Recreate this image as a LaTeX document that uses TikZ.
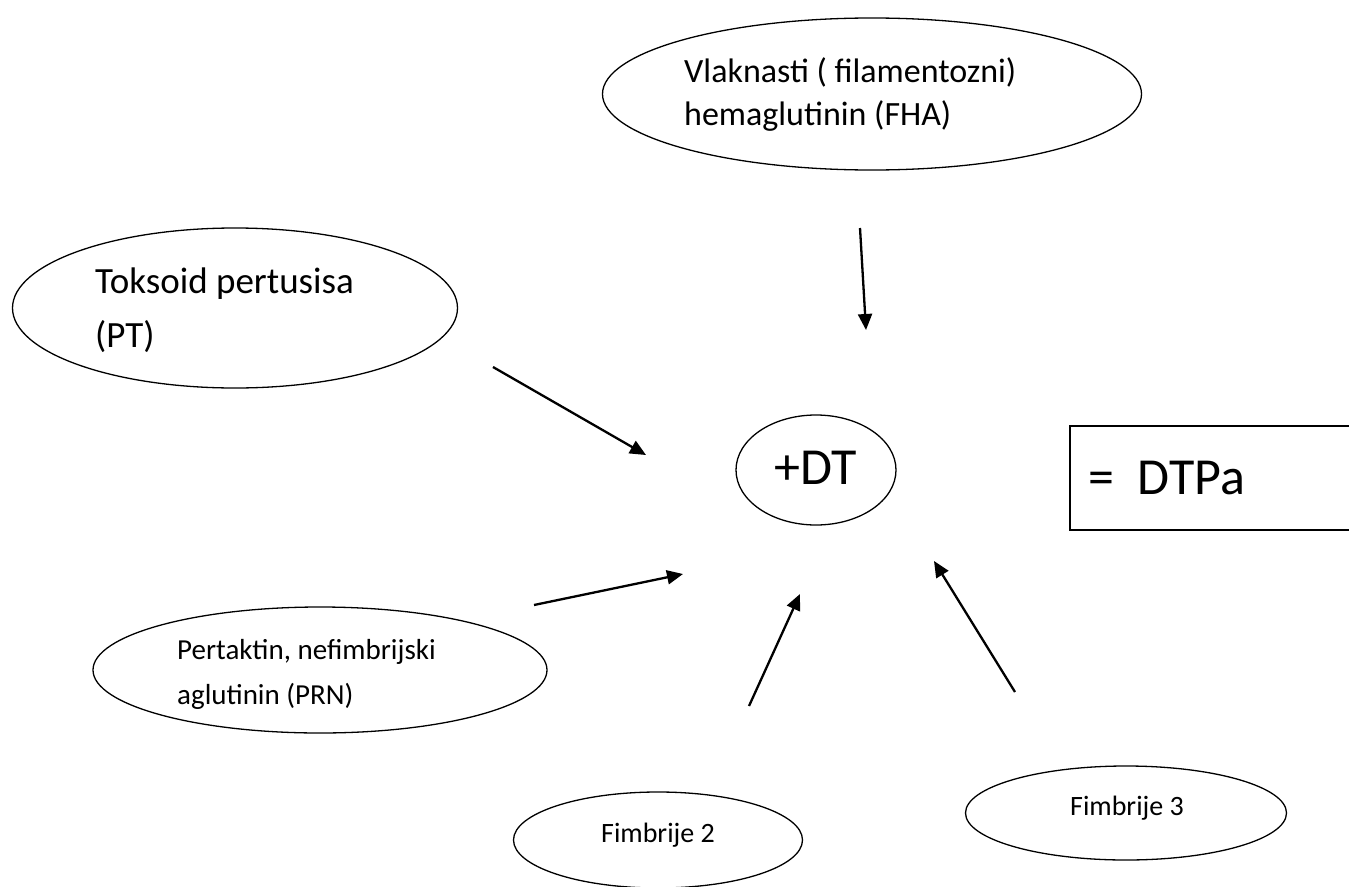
\documentclass[tikz,border=0pt]{standalone}
\usepackage{fontspec}
\setmainfont{Carlito}
\usetikzlibrary{shapes.geometric, arrows.meta, positioning}

\begin{document}
\begin{tikzpicture}[
    x=1pt, y=-1pt,
    oval/.style={draw, ellipse, line width=1.3pt, inner sep=0pt},
    lbl/.style={align=left, anchor=west, inner sep=0pt},
    arr/.style={-{Triangle[length=16pt,width=14pt]}, line width=2.3pt}
]
    \useasboundingbox (0,0) rectangle (1349,886);

    % Components of the vaccine
    \node[oval, minimum width=539pt, minimum height=152pt] (fha) at (872,94) {};
    \node[lbl, font=\fontsize{34}{43}\selectfont] (fhaText) at (684,94) {Vlaknasti ( filamentozni)\\hemaglutinin (FHA)};

    \node[oval, minimum width=445pt, minimum height=160pt] (pt) at (235,308) {};
    \node[lbl, font=\fontsize{37}{54}\selectfont] (ptText) at (95,310) {Toksoid pertusisa\\(PT)};

    \node[oval, minimum width=454pt, minimum height=126pt] (prn) at (320,670) {};
    \node[lbl, font=\fontsize{29}{45}\selectfont] (prnText) at (177,674) {Pertaktin, nefimbrijski\\aglutinin (PRN)};

    \node[oval, minimum width=289pt, minimum height=96pt] (fim2) at (658,840) {};
    \node[font=\fontsize{28}{34}\selectfont] (fim2Text) at (658,835) {Fimbrije 2};

    \node[oval, minimum width=321pt, minimum height=94pt] (fim3) at (1126,813) {};
    \node[font=\fontsize{28}{34}\selectfont] (fim3Text) at (1127,808) {Fimbrije 3};

    % Centre and result
    \node[oval, minimum width=160pt, minimum height=110pt] (dt) at (816,470) {};
    \node[font=\fontsize{52}{60}\selectfont] (dtText) at (816,468) {+DT};

    \node[draw, line width=1.3pt, minimum width=290pt, minimum height=104pt, inner sep=0pt] (res) at (1215,478) {};
    \node[lbl, font=\fontsize{52}{60}\selectfont] (resText) at (1088,478) {=\ \ DTPa};

    % Arrows
    \coordinate (a1s) at (860,228); \coordinate (a1e) at (866,330);
    \coordinate (a2s) at (493,367); \coordinate (a2e) at (646,455);
    \coordinate (a3s) at (534,605); \coordinate (a3e) at (683,574);
    \coordinate (a4s) at (749,706); \coordinate (a4e) at (800,594);
    \coordinate (a5s) at (1015,692); \coordinate (a5e) at (934,561);
    \foreach \i in {1,...,5} {
        \draw[arr] (a\i s) -- (a\i e);
    }

\end{tikzpicture}
\end{document}
